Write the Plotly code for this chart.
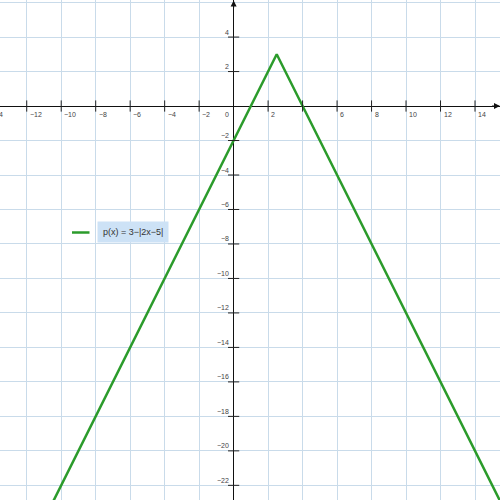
import numpy as np
import plotly.graph_objects as go

# function p(x) = 3 - |2x - 5|, corners
xs = [-10.7, 2.5, 15.5]
ys = [3 - abs(2 * v - 5) for v in xs]

x_ticks = [-12, -10, -8, -6, -4, -2, 2, 6, 8, 10, 12, 14]
y_ticks = [4, 2, -2, -4, -6, -8, -10, -12, -14, -16, -18, -20, -22]
x_marks = [-12, -10, -8, -6, -4, -2, 2, 4, 6, 8, 10, 12, 14]
y_marks = [4, 2, -2, -4, -6, -8, -10, -12, -14, -16, -18, -20, -22]
label = "p(x) = 3\u2212|2x\u22125|"

green = "#2b9b2b"
grid = "#c9dbea"

fig = go.Figure()

fig.add_trace(go.Scatter(x=xs, y=ys, mode="lines",
                         line=dict(color=green, width=2.5),
                         showlegend=False, hoverinfo="skip"))

# small crossing ticks on the axes
fig.add_trace(go.Scatter(x=x_marks, y=[0] * len(x_marks), mode="markers",
                         marker=dict(symbol="line-ns", size=8,
                                     line=dict(color="#222", width=1)),
                         showlegend=False, hoverinfo="skip"))
fig.add_trace(go.Scatter(x=[0] * len(y_marks), y=y_marks, mode="markers",
                         marker=dict(symbol="line-ew", size=8,
                                     line=dict(color="#222", width=1)),
                         showlegend=False, hoverinfo="skip"))

anns = []
for t in x_ticks:
    anns.append(dict(x=t, y=0, text="\u2212%d" % -t if t < 0 else str(t),
                     showarrow=False, xanchor="left", yanchor="middle",
                     xshift=1, yshift=-8, font=dict(size=7, color="#444")))
# -14 label sits half off the left edge
anns.append(dict(x=-13.5, y=0, text="\u221214", showarrow=False,
                 xanchor="right", yanchor="middle", xshift=4, yshift=-8,
                 font=dict(size=7, color="#444")))
for t in y_ticks:
    anns.append(dict(x=0, y=t, text="\u2212%d" % -t if t < 0 else str(t),
                     showarrow=False, xanchor="right", yanchor="middle",
                     xshift=-3, yshift=5, font=dict(size=7, color="#444")))
anns.append(dict(x=0, y=0, text="0", showarrow=False, xanchor="right",
                 yanchor="middle", xshift=-3, yshift=-8,
                 font=dict(size=7, color="#444")))

# arrow heads at the ends of the axes
anns.append(dict(x=15.45, y=0, ax=14.9, ay=0, axref="x", ayref="y",
                 text="", showarrow=True, arrowhead=2, arrowsize=1.2,
                 arrowwidth=1, arrowcolor="#111"))
anns.append(dict(x=0, y=6.12, ax=0, ay=5.6, axref="x", ayref="y",
                 text="", showarrow=True, arrowhead=2, arrowsize=1.2,
                 arrowwidth=1, arrowcolor="#111"))

# legend-like label
anns.append(dict(xref="paper", yref="paper", x=0.193, y=0.535, text=label,
                 showarrow=False, xanchor="left", yanchor="middle",
                 bgcolor="#cde2f6", borderpad=5,
                 font=dict(size=9, color="#333", family="Arial")))

fig.update_layout(
    width=500, height=500,
    margin=dict(l=0, r=0, t=0, b=0),
    plot_bgcolor="white", paper_bgcolor="white",
    annotations=anns,
    shapes=[dict(type="line", xref="paper", yref="paper",
                 x0=0.144, x1=0.179, y0=0.535, y1=0.535,
                 line=dict(color=green, width=2.5))],
    xaxis=dict(range=[-13.55, 15.45], dtick=2, showgrid=True, gridcolor=grid,
               gridwidth=1, zeroline=True, zerolinecolor="#111",
               zerolinewidth=1, showticklabels=False, fixedrange=True),
    yaxis=dict(range=[-22.85, 6.15], dtick=2, showgrid=True, gridcolor=grid,
               gridwidth=1, zeroline=True, zerolinecolor="#111",
               zerolinewidth=1, showticklabels=False, fixedrange=True),
    font=dict(family="Arial"),
)

# drop the page's default body margin so the figure sits at 0,0
fig.write_html("out.html", config={"displayModeBar": False},
               post_script="document.body.style.margin='0';")
